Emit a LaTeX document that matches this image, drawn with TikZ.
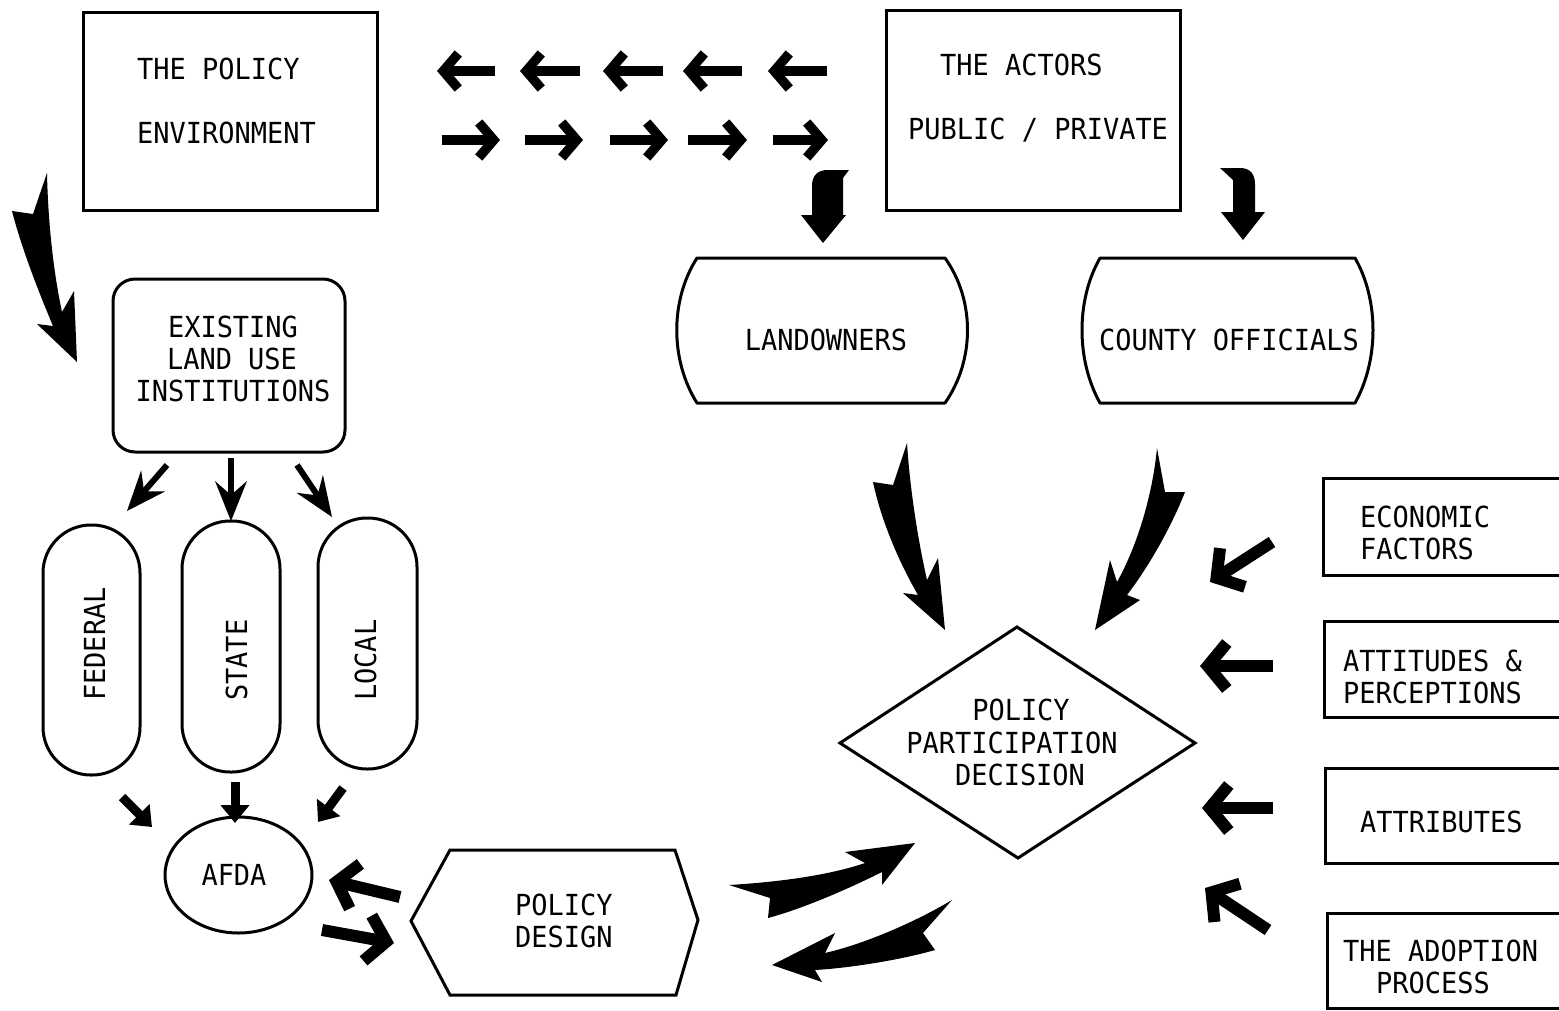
\documentclass[tikz,border=0pt]{standalone}
\usepackage{fontspec}
\newfontfamily\lgfont[FakeStretch=0.93]{DejaVu Sans Mono}
\usetikzlibrary{arrows.meta,shapes.geometric,calc}
\newcommand\dartarrow[2]{%
  \coordinate (#2bk) at ($(#2)!40pt!(#1)$);
  \coordinate (#2in) at ($(#2)!26pt!(#1)$);
  \draw[line width=6pt] (#1) -- (#2in);
  \fill (#2) -- ($(#2bk)!16pt!90:(#2)$) -- (#2in) -- ($(#2bk)!16pt!-90:(#2)$) -- cycle;
}
\begin{document}
\begin{tikzpicture}[x=1pt,y=-1pt,
  box/.style={draw, line width=3pt, inner sep=0pt},
  txt/.style={font=\lgfont\fontsize{29}{32}\selectfont, inner sep=0pt},
  chev/.style={line width=9.5pt, -{Straight Barb[length=15pt,width=35pt]}},
  chevbig/.style={line width=12pt, -{Straight Barb[length=19pt,width=46pt]}},
  tri/.style={line width=9pt, -{Triangle[length=18pt,width=28pt]}},
  shapeline/.style={line width=3pt, line join=round}]
\useasboundingbox (0,0) rectangle (1559,1010);
\fill[white] (0,0) rectangle (1559,1010);

% ---------- boxes ----------
\node[box, minimum width=294pt, minimum height=198pt] (env) at (230,111) {};
\node[box, minimum width=294pt, minimum height=200pt] (act) at (1033,110) {};
\node[box, rounded corners=22pt, minimum width=232pt, minimum height=173pt] (exist) at (229,365.5) {};
\node[box, rounded corners=48pt, minimum width=97pt, minimum height=250pt] (fed) at (91.5,650) {};
\node[box, rounded corners=48pt, minimum width=98pt, minimum height=251pt] (sta) at (231,646.5) {};
\node[box, rounded corners=49pt, minimum width=99pt, minimum height=251pt] (loc) at (367.5,643.5) {};
\node[box, ellipse, minimum width=147pt, minimum height=116pt] (afda) at (238.5,875) {};
\node[box, minimum width=276pt, minimum height=97pt] (econ) at (1461,526.5) {};
\node[box, minimum width=275pt, minimum height=96pt] (att) at (1461.5,669) {};
\node[box, minimum width=274pt, minimum height=95pt] (attr) at (1462,815.5) {};
\node[box, minimum width=272pt, minimum height=95pt] (adopt) at (1463,960.5) {};

% landowners / county officials
\draw[shapeline] (697,258) -- (945,258) .. controls (975,300) and (975,360) .. (945,403)
  -- (697,403) .. controls (670,360) and (670,300) .. (697,258) -- cycle;
\draw[shapeline] (1100,258) -- (1355,258) .. controls (1379,300) and (1379,360) .. (1355,403)
  -- (1100,403) .. controls (1076,360) and (1076,300) .. (1100,258) -- cycle;
% diamond
\coordinate (dT) at (1017,627); \coordinate (dR) at (1195,743);
\coordinate (dB) at (1018,858); \coordinate (dL) at (840,743);
\draw[shapeline, line join=miter] (dT) -- (dR) -- (dB) -- (dL) -- cycle;
% hexagon
\coordinate (h1) at (411,921); \coordinate (h2) at (450,850); \coordinate (h3) at (675,850);
\coordinate (h4) at (698,920); \coordinate (h5) at (676,995); \coordinate (h6) at (450,995);
\draw[shapeline, line join=miter] (h1) -- (h2) -- (h3) -- (h4) -- (h5) -- (h6) -- cycle;

% ---------- texts ----------
\node[txt, anchor=base west] (envA) at (137,79) {THE POLICY};
\node[txt, anchor=base west] (envB) at (137,143) {ENVIRONMENT};
\node[txt, anchor=base west] (actA) at (940,75) {THE ACTORS};
\node[txt, anchor=base west] (actB) at (908,139) {PUBLIC / PRIVATE};
\node[txt, anchor=base] (exA) at (233,337) {EXISTING};
\node[txt, anchor=base] (exB) at (232,369) {LAND USE};
\node[txt, anchor=base] (exC) at (233,401) {INSTITUTIONS};
\node[txt, anchor=base] (lanT) at (826,350) {LANDOWNERS};
\node[txt, anchor=base] (couT) at (1229,350) {COUNTY OFFICIALS};
\node[txt, rotate=90, anchor=base west] (fedT) at (105,701) {FEDERAL};
\node[txt, rotate=90, anchor=base west] (staT) at (247,701) {STATE};
\node[txt, rotate=90, anchor=base west] (locT) at (376,701) {LOCAL};
\node[txt, anchor=base] (afT) at (234,885) {AFDA};
\node[txt, anchor=base west] (pdA) at (515,915) {POLICY};
\node[txt, anchor=base west] (pdB) at (515,947) {DESIGN};
\node[txt, anchor=base] (dA) at (1021,720) {POLICY};
\node[txt, anchor=base] (dB) at (1012,753) {PARTICIPATION};
\node[txt, anchor=base] (dC) at (1020,785) {DECISION};
\node[txt, anchor=base west] (ecA) at (1360,527) {ECONOMIC};
\node[txt, anchor=base west] (ecB) at (1360,559) {FACTORS};
\node[txt, anchor=base west] (atA) at (1343,671) {ATTITUDES \&};
\node[txt, anchor=base west] (atB) at (1343,703) {PERCEPTIONS};
\node[txt, anchor=base west] (trA) at (1360,832) {ATTRIBUTES};
\node[txt, anchor=base west] (adA) at (1343,961) {THE ADOPTION};
\node[txt, anchor=base west] (adB) at (1376,993) {PROCESS};

% ---------- arrows between top boxes ----------
\foreach \i/\a/\b in {1/437/495, 2/520/580, 3/603/663, 4/683/742, 5/768/827} {
  \coordinate (Ls\i) at (\b,71); \coordinate (Le\i) at (\a,71);
  \draw[chev] (Ls\i) -- (Le\i);
}
\foreach \i/\a/\b in {1/442/500, 2/525/583, 3/610/668, 4/688/747, 5/773/828} {
  \coordinate (Rs\i) at (\a,140); \coordinate (Re\i) at (\b,140);
  \draw[chev] (Rs\i) -- (Re\i);
}

% ---------- big curved arrow: policy environment -> existing ----------
\fill (47,173) .. controls (48,220) and (53,270) .. (62,312) -- (74,291) -- (77,362) -- (37,324) -- (53,326)
  .. controls (40,295) and (22,250) .. (12,211) -- (33,214) -- cycle;

% ---------- hooked arrows from actors ----------
\fill (849,170) -- (843,178) -- (843,215) -- (846,215) -- (823,243) -- (801,215) -- (812,215) -- (812,186)
  .. controls (812,175) and (818,170) .. (828,170) -- cycle;
\fill (1220,168) -- (1240,168) .. controls (1250,168) and (1255,174) .. (1255,184) -- (1255,212) -- (1265,212)
  -- (1243,240) -- (1221,212) -- (1233,212) -- (1233,180) -- cycle;

% ---------- big arrows into decision ----------
\fill (907,443) .. controls (910,490) and (918,540) .. (927,580) -- (938,558) -- (945,630) -- (903,593) -- (918,595)
  .. controls (895,555) and (880,515) .. (873,482) -- (893,485) -- cycle;
\fill (1157,448) .. controls (1152,500) and (1135,550) .. (1117,582) -- (1110,560) -- (1095,630) -- (1140,600) -- (1127,595)
  .. controls (1150,565) and (1172,525) .. (1185,492) -- (1165,492) -- cycle;

% ---------- swooshes between design and decision ----------
\fill (729,885) .. controls (780,882) and (830,875) .. (865,863) -- (845,852) -- (915,843) -- (882,885) -- (882,872)
  .. controls (850,888) and (805,908) .. (768,918) -- (770,898) -- cycle;
\fill (952,900) .. controls (910,925) and (860,945) .. (825,953) -- (835,933) -- (772,965) -- (822,982) -- (815,970)
  .. controls (850,968) and (900,960) .. (935,950) -- (923,933) -- cycle;

% ---------- existing -> levels ----------
\coordinate (e1) at (167,465); \coordinate (f1) at (127,511);
\coordinate (e2) at (231,458); \coordinate (f2) at (231,521);
\coordinate (e3) at (297,465); \coordinate (f3) at (332,517);
\dartarrow{e1}{f1}
\dartarrow{e2}{f2}
\dartarrow{e3}{f3}

% ---------- levels -> AFDA ----------
\coordinate (g1) at (122,797); \coordinate (k1) at (152,827);
\coordinate (g2) at (235,782); \coordinate (k2) at (235,823);
\coordinate (g3) at (343,788); \coordinate (k3) at (318,822);
\draw[tri] (g1) -- (k1);
\draw[tri] (g2) -- (k2);
\draw[tri] (g3) -- (k3);

% ---------- AFDA <-> policy design ----------
\coordinate (p1) at (400,897); \coordinate (q1) at (329,880);
\coordinate (p2) at (322,930); \coordinate (q2) at (394,943);
\draw[chevbig] (p1) -- (q1);
\draw[chevbig] (p2) -- (q2);

% ---------- factor arrows ----------
\coordinate (r1) at (1272,542); \coordinate (s1) at (1210,582);
\coordinate (r2) at (1273,666); \coordinate (s2) at (1200,666);
\coordinate (r3) at (1273,808); \coordinate (s3) at (1202,808);
\coordinate (r4) at (1268,930); \coordinate (s4) at (1205,888);
\foreach \j in {1,2,3,4} { \draw[chevbig] (r\j) -- (s\j); }
\end{tikzpicture}
\end{document}
